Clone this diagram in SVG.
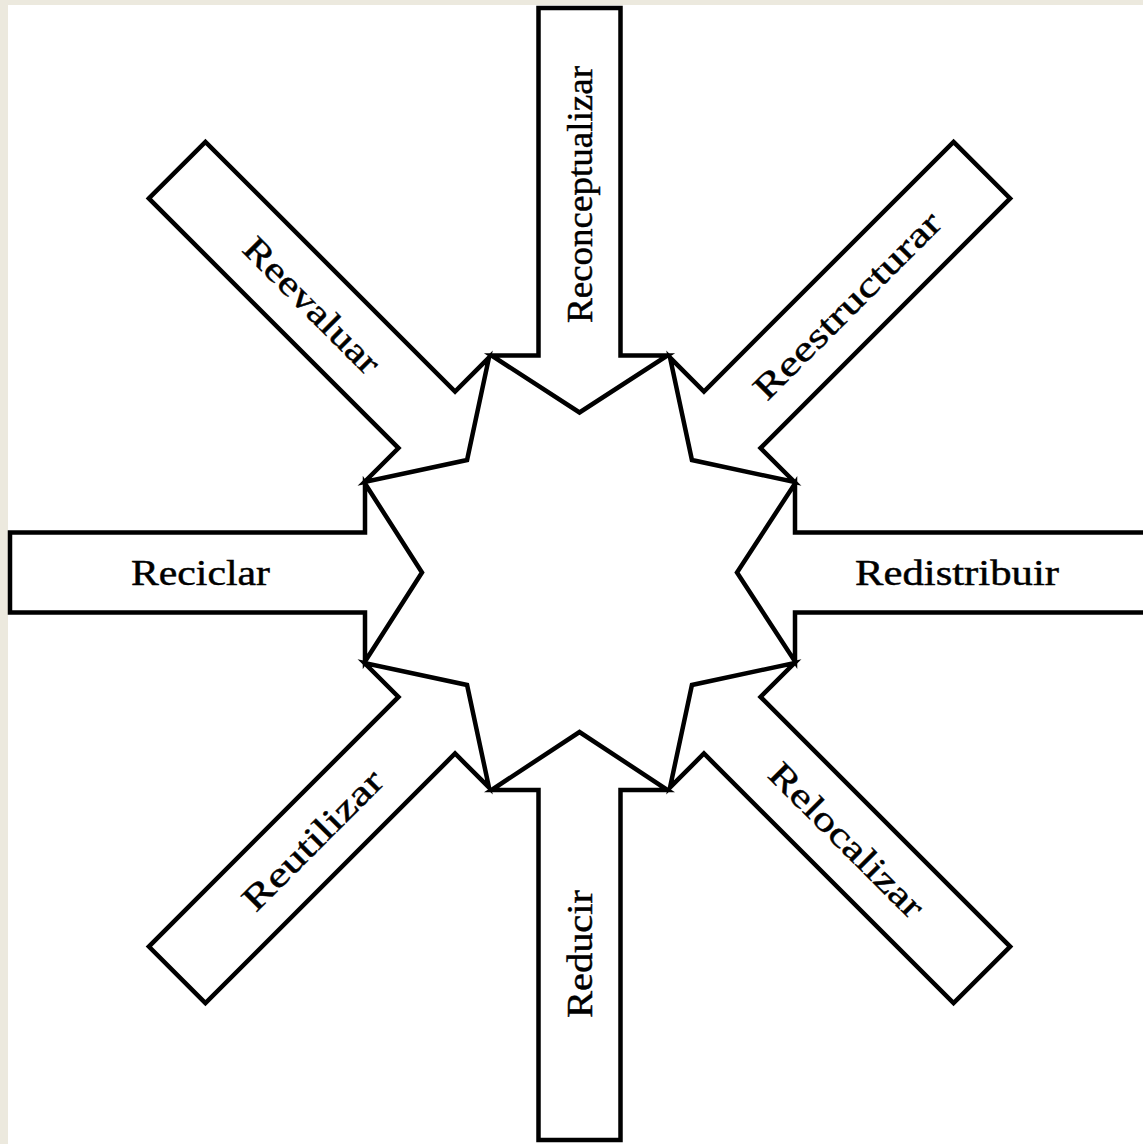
<svg xmlns="http://www.w3.org/2000/svg" width="1143" height="1144" viewBox="0 0 1143 1144">
  <style>
    .arrow { fill: #ffffff; stroke: #000000; stroke-width: 4.5; stroke-linejoin: miter; stroke-miterlimit: 10; }
    .label { font-family: "Liberation Serif", "Times New Roman", serif; font-size: 35px; fill: #000000; stroke: #000000; stroke-width: 0.45; text-anchor: middle; }
  </style>
  <!-- page background with white sheet -->
  <rect x="0" y="0" width="1143" height="1144" fill="#ECE9DE"/>
  <rect x="8" y="5" width="1135" height="1139" fill="#ffffff"/>

  <!-- eight block arrows converging on the centre (579.5, 572.5) -->
  <g id="connectors"/>

  <g id="reconceptualizar">
    <path class="arrow" transform="translate(579.5 572.5) rotate(0)" d="M -41 -564.5 L 41 -564.5 L 41 -217 L 88 -217 L 0 -160 L -88 -217 L -41 -217 Z"/>
    <text class="label" transform="translate(579.5 194.5) rotate(-90)" x="0" y="12" textLength="257" lengthAdjust="spacingAndGlyphs">Reconceptualizar</text>
  </g>

  <g id="reestructurar">
    <path class="arrow" transform="translate(579.5 572.5) rotate(45)" d="M -40 -569 L 40 -569 L 40 -216 L 88 -216 L 0 -159 L -88 -216 L -40 -216 Z"/>
    <text class="label" transform="translate(846.8 305.2) rotate(-45)" x="0" y="12" textLength="250" lengthAdjust="spacingAndGlyphs">Reestructurar</text>
  </g>

  <g id="redistribuir">
    <path class="arrow" transform="translate(579.5 572.5) rotate(90)" d="M -40 -569 L 40 -569 L 40 -215.5 L 89 -215.5 L 0 -157.5 L -89 -215.5 L -40 -215.5 Z"/>
    <text class="label" transform="translate(957 572.5)" x="0" y="12" textLength="204" lengthAdjust="spacingAndGlyphs">Redistribuir</text>
  </g>

  <g id="relocalizar">
    <path class="arrow" transform="translate(579.5 572.5) rotate(135)" d="M -40 -569 L 40 -569 L 40 -216 L 88 -216 L 0 -159 L -88 -216 L -40 -216 Z"/>
    <text class="label" transform="translate(846.8 839.8) rotate(45)" x="0" y="12" textLength="204" lengthAdjust="spacingAndGlyphs">Relocalizar</text>
  </g>

  <g id="reducir">
    <path class="arrow" transform="translate(579.5 572.5) rotate(180)" d="M -41 -567.5 L 41 -567.5 L 41 -217.5 L 88 -217.5 L 0 -159.5 L -88 -217.5 L -41 -217.5 Z"/>
    <text class="label" transform="translate(579.5 954) rotate(-90)" x="0" y="12" textLength="128" lengthAdjust="spacingAndGlyphs">Reducir</text>
  </g>

  <g id="reutilizar">
    <path class="arrow" transform="translate(579.5 572.5) rotate(225)" d="M -40 -569 L 40 -569 L 40 -216 L 88 -216 L 0 -159 L -88 -216 L -40 -216 Z"/>
    <text class="label" transform="translate(312.2 839.8) rotate(-45)" x="0" y="12" textLength="184" lengthAdjust="spacingAndGlyphs">Reutilizar</text>
  </g>

  <g id="reciclar">
    <path class="arrow" transform="translate(579.5 572.5) rotate(270)" d="M -40 -569.5 L 40 -569.5 L 40 -214.5 L 89 -214.5 L 0 -157.5 L -89 -214.5 L -40 -214.5 Z"/>
    <text class="label" transform="translate(200.5 572.5)" x="0" y="12" textLength="139" lengthAdjust="spacingAndGlyphs">Reciclar</text>
  </g>

  <g id="reevaluar">
    <path class="arrow" transform="translate(579.5 572.5) rotate(315)" d="M -40 -569 L 40 -569 L 40 -216 L 88 -216 L 0 -159 L -88 -216 L -40 -216 Z"/>
    <text class="label" transform="translate(312.2 305.2) rotate(45)" x="0" y="12" textLength="178" lengthAdjust="spacingAndGlyphs">Reevaluar</text>
  </g>
</svg>
